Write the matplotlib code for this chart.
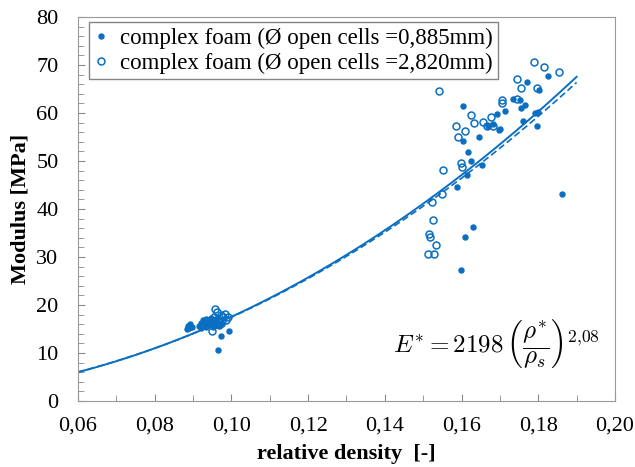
import numpy as np
import matplotlib
matplotlib.use("Agg")
import matplotlib.pyplot as plt
from matplotlib.ticker import MultipleLocator, FuncFormatter

plt.rcParams['font.family'] = ['Liberation Serif', 'DejaVu Serif']
plt.rcParams['mathtext.fontset'] = 'cm'

# 0,885 mm cells (filled)
dens_a = [0.0885, 0.0888, 0.0890, 0.0893, 0.0896, 0.0915, 0.0920, 0.0922, 0.0925, 0.0928,
          0.0930, 0.0933, 0.0935, 0.0938, 0.0940, 0.0943, 0.0945, 0.0948, 0.0950, 0.0953,
          0.0955, 0.0958, 0.0960, 0.0962, 0.0966, 0.0973, 0.0994, 0.0968, 0.0975,
          0.1604, 0.1603, 0.1645, 0.1616, 0.1624, 0.1653, 0.1613, 0.1589, 0.1629, 0.1609,
          0.1598, 0.1693, 0.1698, 0.1826, 0.1771, 0.1803, 0.1733, 0.1752, 0.1765, 0.1754,
          0.1713, 0.1683, 0.1670, 0.1700, 0.1759, 0.1791, 0.1800, 0.1796, 0.1861]
mod_a = [15.0, 15.6, 15.3, 16.0, 15.4, 15.6, 16.3, 15.2, 16.8, 15.9,
         16.4, 17.0, 15.5, 16.2, 16.9, 15.8, 16.5, 17.3, 16.0, 15.4,
         16.7, 15.9, 17.1, 16.3, 10.6, 13.5, 14.6, 15.8, 16.0,
         61.5, 54.2, 54.9, 51.9, 50.0, 49.1, 47.1, 44.6, 36.3, 34.2,
         27.3, 59.8, 56.5, 67.7, 66.5, 64.8, 63.0, 62.7, 61.7, 61.0,
         60.4, 57.8, 57.3, 56.6, 58.4, 60.1, 60.3, 57.2, 43.1]

# 2,820 mm cells (open)
dens_b = [0.0950, 0.0955, 0.0958, 0.0962, 0.0965, 0.0968, 0.0972, 0.0975, 0.0978, 0.0982,
          0.0985, 0.0990, 0.0960, 0.0948,
          0.1542, 0.1585, 0.1609, 0.1625, 0.1632, 0.1655, 0.1676, 0.1667, 0.1591, 0.1552,
          0.1598, 0.1600, 0.1548, 0.1522, 0.1526, 0.1516, 0.1518, 0.1533, 0.1513, 0.1529,
          0.1789, 0.1815, 0.1855, 0.1745, 0.1754, 0.1796, 0.1705, 0.1705, 0.1745, 0.1683]
mod_b = [14.5, 17.5, 19.2, 18.6, 17.0, 15.8, 18.0, 16.6, 17.4, 18.1,
         16.9, 17.6, 16.0, 16.8,
         64.6, 57.3, 56.3, 59.5, 58.0, 58.2, 59.1, 57.3, 54.9, 48.1,
         49.5, 48.8, 43.2, 41.5, 37.8, 34.8, 34.1, 32.5, 30.6, 30.6,
         70.7, 69.5, 68.6, 67.0, 65.3, 65.3, 62.7, 62.0, 63.0, 57.3]

# power-law fits E = C * rho^n
fit_solid = (2209, 2.10)
fit_dash = (2100, 2.08)

blue = '#0A6FC2'
fig = plt.figure(figsize=(6.35, 4.67), dpi=100)
ax = fig.add_axes([0.1228, 0.1413, 0.8457, 0.8223])

x = np.linspace(0.06, 0.19, 200)
ax.plot(x, fit_solid[0] * x ** fit_solid[1], color=blue, lw=1.4)
ax.plot(x, fit_dash[0] * x ** fit_dash[1], color=blue, lw=1.2, ls=(0, (4, 2)))

ax.plot(dens_a, mod_a, 'o', ms=3.6, color=blue, mec=blue,
        label='complex foam (Ø open cells =0,885mm)')
ax.plot(dens_b, mod_b, 'o', ms=5, mfc='none', mec=blue, mew=1.1,
        label='complex foam (Ø open cells =2,820mm)')

ax.set_xlim(0.06, 0.20)
ax.set_ylim(0, 80)
ax.xaxis.set_major_locator(MultipleLocator(0.02))
ax.xaxis.set_minor_locator(MultipleLocator(0.01))
ax.yaxis.set_major_locator(MultipleLocator(10))
ax.yaxis.set_minor_locator(MultipleLocator(2))
ax.xaxis.set_major_formatter(FuncFormatter(lambda v, p: f'{v:.2f}'.replace('.', ',')))
ax.tick_params(which='both', direction='in', colors='#888888', labelcolor='black',
               labelsize=16, top=False, right=False)
ax.tick_params(which='major', length=5)
ax.tick_params(which='minor', length=4)
ax.tick_params(axis='x', pad=11)
ax.tick_params(axis='y', pad=14)
for s in ax.spines.values():
    s.set_color('#999999')

ax.set_xlabel('relative density  [-]', fontsize=16, fontweight='bold', labelpad=6)
ax.set_ylabel('Modulus [MPa]', fontsize=16, fontweight='bold', labelpad=4)

ax.text(0.1421, 11.9, r'$E^{*} = 2198\,\left(\dfrac{\rho^{*}}{\rho_s}\right)^{2{,}08}$',
        fontsize=18, va='center', ha='left')

leg = ax.legend(loc='upper left', bbox_to_anchor=(0.02, 0.987), borderaxespad=0,
                fontsize=16.5, frameon=True, fancybox=False, handlelength=0.6,
                handletextpad=0.5, borderpad=0.25, labelspacing=0.15, edgecolor='#666666')
leg.get_frame().set_linewidth(1.0)

fig.savefig('out.png', dpi=100)
